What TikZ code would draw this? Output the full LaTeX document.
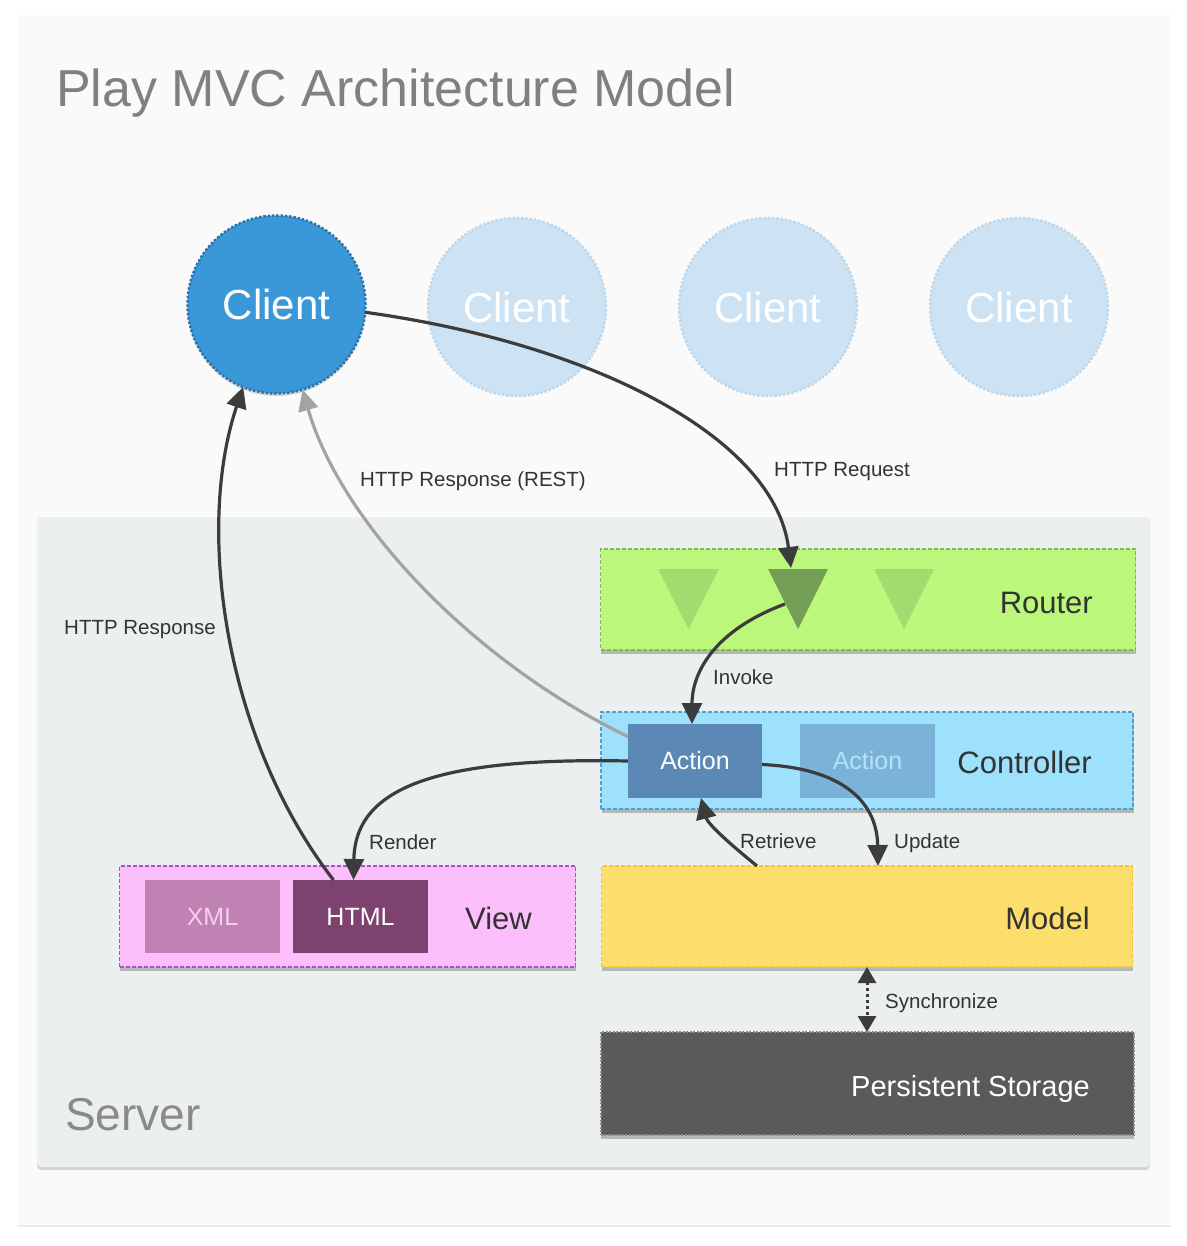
\documentclass[tikz,border=0pt]{standalone}
\usepackage{fontspec}
\setmainfont{Liberation Sans}
\usetikzlibrary{arrows.meta,shadows,calc}

\definecolor{cardbg}{HTML}{FAFAFA}
\definecolor{serverbg}{HTML}{ECEFF0}
\definecolor{titlegray}{HTML}{808080}
\definecolor{servergray}{HTML}{8A8A8A}
\definecolor{clientfill}{HTML}{3A98D8}
\definecolor{clientborder}{HTML}{2A74A8}
\definecolor{ghostfill}{HTML}{CDE3F3}
\definecolor{ghostborder}{HTML}{BDD7EC}
\definecolor{routerfill}{HTML}{BBF77B}
\definecolor{routerborder}{HTML}{78C144}
\definecolor{trilight}{HTML}{A4DB71}
\definecolor{tridark}{HTML}{739F56}
\definecolor{ctrlfill}{HTML}{9DE1FC}
\definecolor{ctrlborder}{HTML}{4F9FD3}
\definecolor{actionfill}{HTML}{5B88B5}
\definecolor{actionghost}{HTML}{7BB3D8}
\definecolor{actionghosttext}{HTML}{B5E2F8}
\definecolor{viewfill}{HTML}{FDBFFB}
\definecolor{viewborder}{HTML}{AC4FC4}
\definecolor{xmlfill}{HTML}{BF82B2}
\definecolor{xmltext}{HTML}{F6CFF0}
\definecolor{htmlfill}{HTML}{7D4270}
\definecolor{modelfill}{HTML}{FDDD6C}
\definecolor{modelborder}{HTML}{F2C23B}
\definecolor{storefill}{HTML}{5A5A5A}
\definecolor{storeborder}{HTML}{8C8C8C}
\definecolor{ink}{HTML}{3C3C3C}
\definecolor{restgray}{HTML}{A3A3A3}
\definecolor{labeltext}{HTML}{333333}

\begin{document}
\begin{tikzpicture}[x=1pt,y=-1pt,
  boxlayer/.style={inner sep=0pt, outer sep=0pt, anchor=north west, line width=1.2pt,
    dash pattern=on 4pt off 2pt,
    drop shadow={shadow xshift=0.5pt, shadow yshift=-3.5pt, opacity=0.5}},
  innerbox/.style={inner sep=0pt, outer sep=0pt, anchor=north west,
    minimum width=135pt, minimum height=73pt, font=\fontsize{25}{30}\selectfont},
  boxcaption/.style={inner sep=0pt, anchor=base east, text=labeltext, font=\fontsize{31}{36}\selectfont},
  conlabel/.style={inner sep=0pt, anchor=base west, text=labeltext, font=\fontsize{20.5}{24}\selectfont},
  client/.style={circle, inner sep=0pt, outer sep=0pt, minimum size=178pt, text=white,
    font=\fontsize{42}{48}\selectfont, line width=2.5pt, dash pattern=on 2.5pt off 1.8pt},
  conn/.style={draw=ink, line width=3.2pt, -{Triangle[length=21pt,width=20pt]}},
  restconn/.style={draw=restgray, line width=3.2pt, -{Triangle[length=21pt,width=20pt]}},
  syncconn/.style={draw=ink, line width=3pt, dash pattern=on 3pt off 3pt,
    {Triangle[length=16pt,width=18pt]}-{Triangle[length=16pt,width=18pt]}}
]
\useasboundingbox (0,0) rectangle (1186,1246);
\fill[white] (0,0) rectangle (1186,1246);

% outer card
\fill[cardbg, drop shadow={shadow xshift=0pt, shadow yshift=-1.5pt, opacity=0.15}] (17,15) rectangle (1171,1225);
\node[anchor=base west, inner sep=0pt, text=titlegray, font=\fontsize{52}{60}\selectfont] (title) at (56,107) {Play MVC Architecture Model};

% server panel
\node[inner sep=0pt, outer sep=0pt, anchor=north west, fill=serverbg, rounded corners=4pt,
  minimum width=1113pt, minimum height=650pt,
  drop shadow={shadow xshift=0pt, shadow yshift=-3pt, opacity=0.3}] (server) at (37,517) {};
\node[anchor=base west, inner sep=0pt, text=servergray, font=\fontsize{46}{54}\selectfont] (serverlbl) at (65,1130) {Server};

% clients
\node[client, fill=clientfill, draw=clientborder,
  drop shadow={shadow xshift=0pt, shadow yshift=-2.5pt, opacity=0.3}] (c1) at (276.5,304.5) {Client};
\node[client, fill=ghostfill, draw=ghostborder] (c2) at (517,307) {Client};
\node[client, fill=ghostfill, draw=ghostborder] (c3) at (768,307) {Client};
\node[client, fill=ghostfill, draw=ghostborder] (c4) at (1019,307) {Client};

% router
\node[boxlayer, fill=routerfill, draw=routerborder, minimum width=535pt, minimum height=101pt] (router) at (600.5,549) {};
\fill[trilight] (658,569) -- (719,569) -- (688.5,629) -- cycle;
\fill[tridark] (768,569) -- (828,569) -- (798,629) -- cycle;
\fill[trilight] (874,569) -- (934,569) -- (904,629) -- cycle;
\coordinate (routeIn) at (791,568);
\coordinate (routeOut) at (785,604);
\node[boxcaption] (routerlbl) at (1093,613) {Router};

% controller
\node[boxlayer, fill=ctrlfill, draw=ctrlborder, minimum width=532pt, minimum height=97pt] (ctrl) at (601,712) {};
\node[innerbox, fill=actionfill, text=white, minimum width=134pt, minimum height=74pt] (act1) at (628,724) {Action};
\node[innerbox, fill=actionghost, text=actionghosttext, minimum width=135pt, minimum height=74pt] (act2) at (800,724) {Action};
\node[boxcaption] (ctrllbl) at (1092,773) {Controller};

% view
\node[boxlayer, fill=viewfill, draw=viewborder, minimum width=456pt, minimum height=101pt] (view) at (119.5,866) {};
\node[innerbox, fill=xmlfill, text=xmltext] (xml) at (145,880) {XML};
\node[innerbox, fill=htmlfill, text=white] (html) at (293,880) {HTML};
\node[boxcaption] (viewlbl) at (532,929) {View};

% model
\node[boxlayer, fill=modelfill, draw=modelborder, minimum width=531pt, minimum height=101pt] (model) at (601.5,866) {};
\node[boxcaption] (modellbl) at (1090,929) {Model};

% persistent storage
\node[boxlayer, fill=storefill, draw=storeborder, line width=2pt, dash pattern=on 2pt off 1.5pt,
  minimum width=533pt, minimum height=103pt] (store) at (600.5,1032) {};
\node[boxcaption, text=white, font=\fontsize{29}{34}\selectfont] (storelbl) at (1090,1096) {Persistent Storage};

% connectors
\draw[conn] (c1.-5) .. controls (600,345) and (775,440) .. (routeIn);
\draw[conn] (routeOut) .. controls (715,630) and (692,672) .. ($(act1.north)+(-3,0)$);
\draw[restconn] (act1.160) .. controls (470,660) and (340,520) .. (c1.-73);
\draw[conn] ($(html.north)+(-27,0)$) .. controls (225,740) and (195,530) .. (c1.-112);
\draw[conn] (act1.west) .. controls (430,757) and (355,790) .. ($(html.north)+(-7,0)$);
\draw[conn] (act1.-3) .. controls (840,768) and (877,800) .. ($(model.north)+(11,0)$);
\draw[conn] ($(model.north)+(-110,0)$) .. controls (735,848) and (708,825) .. ($(act1.south)+(6,0)$);
\draw[syncconn] (model.south) -- (store.north);

% connector labels
\node[conlabel] (lreq) at (774,476) {HTTP Request};
\node[conlabel] (lrest) at (360,486) {HTTP Response (REST)};
\node[conlabel] (lresp) at (64,634) {HTTP Response};
\node[conlabel] (linv) at (713,684) {Invoke};
\node[conlabel] (lrend) at (369,849) {Render};
\node[conlabel] (lret) at (740,848) {Retrieve};
\node[conlabel] (lupd) at (894,848) {Update};
\node[conlabel] (lsync) at (885,1008) {Synchronize};
\end{tikzpicture}
\end{document}
